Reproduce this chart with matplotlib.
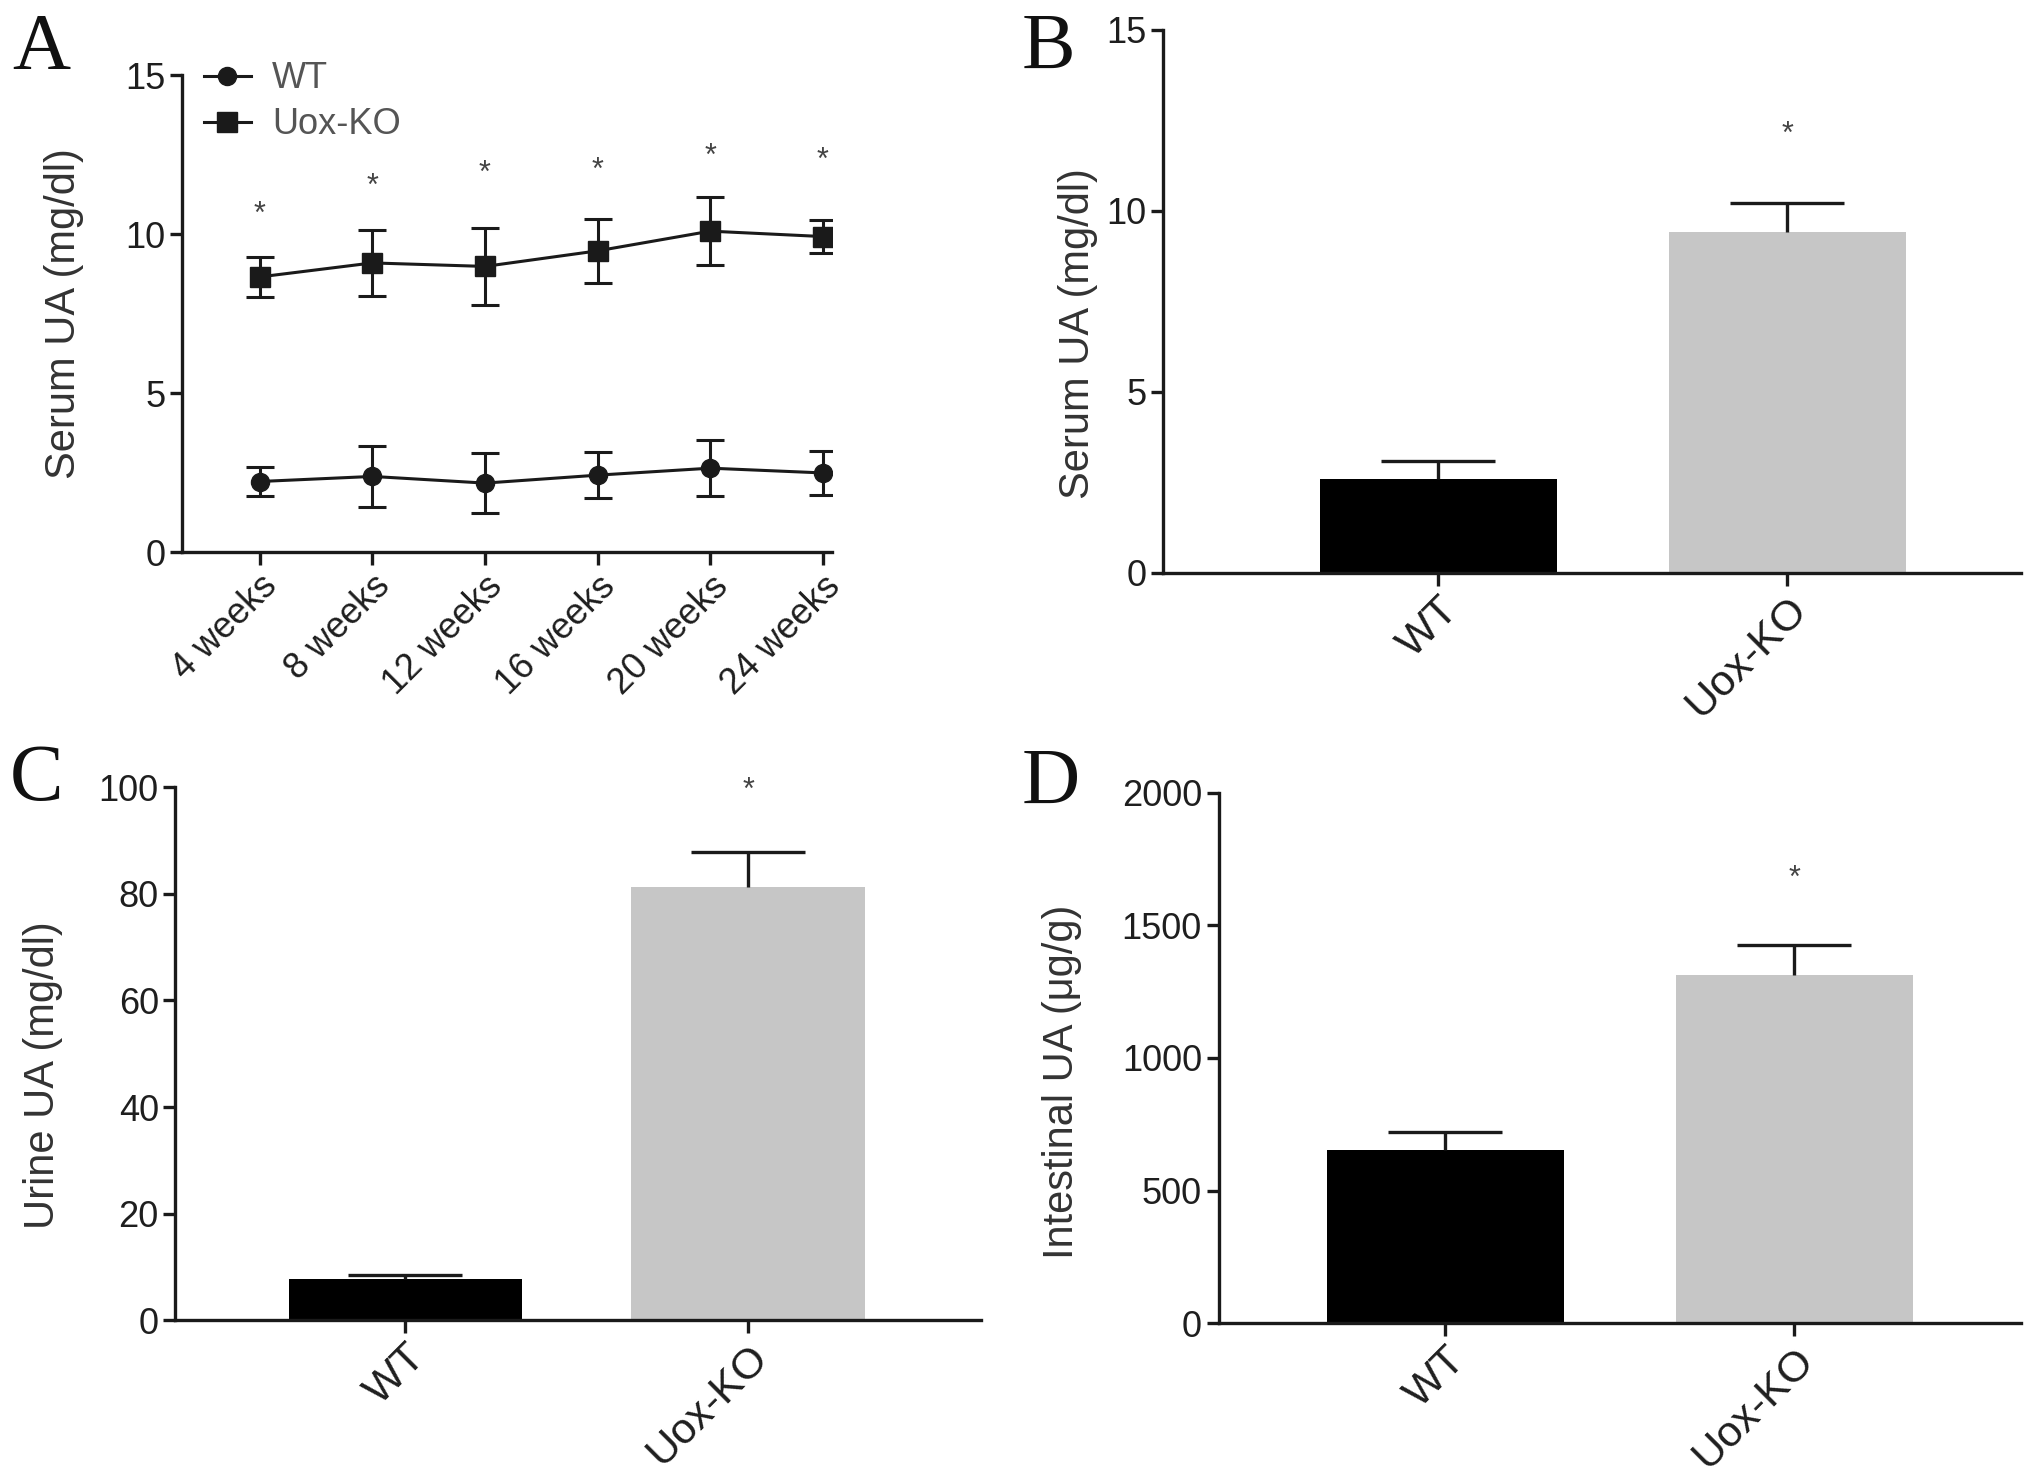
import numpy as np
import matplotlib
matplotlib.use("Agg")
import matplotlib.pyplot as plt
from matplotlib.lines import Line2D

plt.rcParams['font.family'] = ['Liberation Sans', 'DejaVu Sans']

# ---- data ----
weeks = ["4 weeks", "8 weeks", "12 weeks", "16 weeks", "20 weeks", "24 weeks"]
wt_serum = [2.22, 2.38, 2.17, 2.42, 2.64, 2.49]
wt_serum_err = [0.47, 0.95, 0.95, 0.72, 0.88, 0.68]
ko_serum = [8.66, 9.10, 8.99, 9.48, 10.10, 9.93]
ko_serum_err = [0.62, 1.05, 1.20, 1.00, 1.06, 0.53]
star_serum = [10.6, 11.5, 11.9, 12.0, 12.45, 12.3]

groups = ["WT", "Uox-KO"]
serum_mean = [2.58, 9.41]
serum_err = [0.51, 0.80]
urine_mean = [7.8, 81.3]
urine_err = [0.7, 6.6]
intest_mean = [654, 1314]
intest_err = [68, 111]

bar_colors = ["#000000", "#c6c6c6"]
txt = "#1e1e1e"

fig = plt.figure(figsize=(20.31, 14.80), dpi=100)


def style(ax):
    ax.spines['top'].set_visible(False)
    ax.spines['right'].set_visible(False)
    for s in ['left', 'bottom']:
        ax.spines[s].set_linewidth(2.4)
        ax.spines[s].set_color('#1a1a1a')
    ax.tick_params(width=2.4, length=9, colors='#1a1a1a', labelsize=26,
                   labelcolor=txt, pad=3)


# A - line chart
axA = fig.add_axes([0.0896, 0.627, 0.320, 0.322])
x = np.arange(len(weeks))
axA.errorbar(x, wt_serum, yerr=wt_serum_err, color='#1a1a1a', marker='o',
             markersize=13, lw=2.2, capsize=10, capthick=2.2, elinewidth=2.2)
axA.errorbar(x, ko_serum, yerr=ko_serum_err, color='#1a1a1a', marker='s',
             markersize=14, lw=2.2, capsize=10, capthick=2.2, elinewidth=2.2)
for xi, s in zip(x, star_serum):
    axA.text(xi, s, "*", ha='center', va='center', fontsize=22, color='#444444')
axA.set_xlim(-0.69, 5.08)
axA.set_ylim(0, 15)
axA.set_yticks([0, 5, 10, 15])
axA.set_xticks(x)
style(axA)
axA.set_xticklabels(weeks, rotation=45, ha='right', rotation_mode='anchor',
                    fontsize=26)
axA.set_ylabel("Serum UA (mg/dl)", fontsize=30, color='#333333')
axA.yaxis.set_label_coords(-0.15, 0.5)
handles = [Line2D([], [], color='#1a1a1a', marker='o', markersize=13, lw=2.2),
           Line2D([], [], color='#1a1a1a', marker='s', markersize=14, lw=2.2)]
leg = axA.legend(handles, ["WT", "Uox-KO"], loc='upper left',
                 bbox_to_anchor=(0.0, 1.075), frameon=False, fontsize=26,
                 handlelength=1.3, handletextpad=0.6, labelspacing=0.3,
                 borderaxespad=0.2)
for t in leg.get_texts():
    t.set_color('#555555')


def bar_panel(rect, means, errs, ylim, yticks, ylabel, xlim, star_y, lab_xy):
    ax = fig.add_axes(rect)
    xb = np.arange(len(groups))
    ax.bar(xb, means, width=0.68, color=bar_colors, zorder=2)
    eb = ax.errorbar(xb, means, yerr=[np.zeros(len(errs)), errs], fmt='none',
                     ecolor='#1a1a1a', elinewidth=2.4, capsize=41,
                     capthick=2.4, zorder=3)
    eb[1][0].set_visible(False)   # no lower cap
    ax.text(xb[1], star_y, "*", ha='center', va='center', fontsize=22,
            color='#444444')
    ax.set_xlim(*xlim)
    ax.set_ylim(*ylim)
    ax.set_yticks(yticks)
    ax.set_xticks(xb)
    style(ax)
    ax.set_xticklabels(groups, rotation=45, ha='right',
                       rotation_mode='anchor', fontsize=31)
    ax.set_ylabel(ylabel, fontsize=30, color='#333333')
    ax.yaxis.set_label_coords(*lab_xy)
    return ax


# B
bar_panel([0.5726, 0.613, 0.4224, 0.367], serum_mean, serum_err, (0, 15),
          [0, 5, 10, 15], "Serum UA (mg/dl)", (-0.79, 1.67), 12.1,
          (-0.076, 0.44))
# C
bar_panel([0.0864, 0.108, 0.3967, 0.360], urine_mean, urine_err, (0, 100),
          [0, 20, 40, 60, 80, 100], "Urine UA (mg/dl)", (-0.67, 1.68), 99.3,
          (-0.14, 0.46))
# D
bar_panel([0.600, 0.106, 0.395, 0.3584], intest_mean, intest_err, (0, 2000),
          [0, 500, 1000, 1500, 2000], "Intestinal UA (μg/g)", (-0.65, 1.65),
          1675, (-0.17, 0.455))

# panel letters
for lab, xx, yy in [("A", 0.006, 0.991), ("B", 0.503, 0.991),
                    ("C", 0.005, 0.497), ("D", 0.503, 0.495)]:
    fig.text(xx, yy, lab, fontsize=58, family='Liberation Serif', va='top',
             ha='left', color='#111111')

fig.savefig("out.png", dpi=100)
